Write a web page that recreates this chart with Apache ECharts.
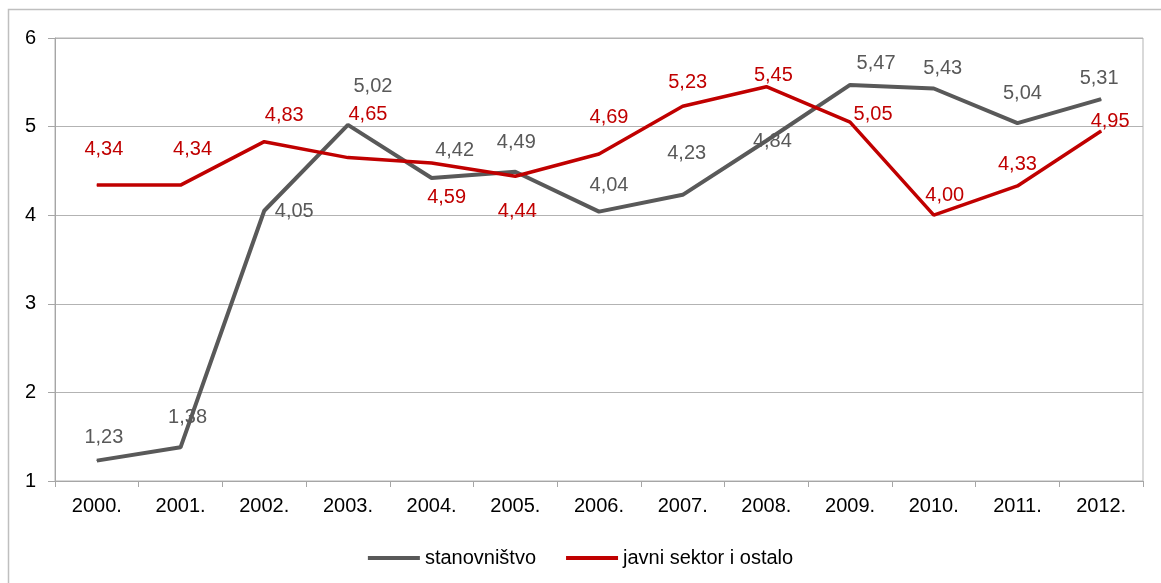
<!DOCTYPE html>
<html>
<head>
<meta charset="utf-8">
<script src="https://cdn.jsdelivr.net/npm/echarts@6/dist/echarts.min.js"></script>
<style>
  html, body {margin: 0; padding: 0; background: #fff;}
  #chart {width: 1161px; height: 583px;}
</style>
</head>
<body>
<div id="chart"></div>
<script>
// data
var years = ['2000.', '2001.', '2002.', '2003.', '2004.', '2005.', '2006.', '2007.', '2008.', '2009.', '2010.', '2011.', '2012.'];
var stanovnistvo = [1.23, 1.38, 4.05, 5.02, 4.42, 4.49, 4.04, 4.23, 4.84, 5.47, 5.43, 5.04, 5.31];
var javniSektor = [4.34, 4.34, 4.83, 4.65, 4.59, 4.44, 4.69, 5.23, 5.45, 5.05, 4.00, 4.33, 4.95];
var seriesNames = ['stanovništvo', 'javni sektor i ostalo'];
var yTicks = [1, 2, 3, 4, 5, 6];

// label placement (px offset from the point), like the original layout
var greyOffsets = [[7, -23], [7, -30], [30, 1], [25, -38], [23, -28], [1, -29], [10, -26], [4, -41], [6, 1], [26, -21], [9, -20], [5, -30], [-2, -21]];
var redOffsets = [[7, -36], [12, -36], [20, -26], [20, -43], [15, 35], [2, 35], [10, -37], [5, -24], [7, -11], [23, -8], [11, -20], [0, -21], [9, -10]];

var fmt = function (v) { return v.toFixed(2).replace('.', ','); };

function withLabels(values, offsets) {
    return values.map(function (v, i) {
        return {value: v, label: {offset: offsets[i]}};
    });
}

var myChart = echarts.init(document.getElementById('chart'));
myChart.setOption({
    animation: false,
    textStyle: {fontFamily: 'Liberation Sans, Arial, sans-serif'},
    graphic: [{
        type: 'rect',
        shape: {x: 8.5, y: 9.5, width: 1200, height: 600},
        style: {fill: 'none', stroke: '#bfbfbf', lineWidth: 1.5},
        silent: true
    }],
    grid: {left: 55, right: 18, top: 38, bottom: 102, show: true, borderColor: '#b3b3b3', borderWidth: 1},
    legend: {
        bottom: 10,
        left: 'center',
        icon: 'rect',
        itemWidth: 52,
        itemHeight: 4,
        itemGap: 30,
        textStyle: {fontSize: 20, color: '#000'},
        data: seriesNames
    },
    xAxis: {
        type: 'category',
        data: years,
        boundaryGap: true,
        axisLine: {lineStyle: {color: '#a6a6a6'}},
        axisTick: {show: true, length: 6, lineStyle: {color: '#a6a6a6'}},
        axisLabel: {fontSize: 20, color: '#000', margin: 15}
    },
    yAxis: {
        type: 'value',
        min: yTicks[0],
        max: yTicks[yTicks.length - 1],
        interval: 1,
        axisLine: {show: true, lineStyle: {color: '#a6a6a6'}},
        axisTick: {show: true, length: 7, lineStyle: {color: '#a6a6a6'}},
        splitLine: {lineStyle: {color: '#b3b3b3'}},
        axisLabel: {fontSize: 20, color: '#000', margin: 19}
    },
    series: [
        {
            name: seriesNames[0],
            type: 'line',
            data: withLabels(stanovnistvo, greyOffsets),
            symbol: 'circle',
            symbolSize: 1,
            lineStyle: {color: '#595959', width: 4},
            itemStyle: {color: '#595959'},
            label: {
                show: true, position: 'inside', fontSize: 20, color: '#595959',
                formatter: function (p) { return fmt(p.value); }
            },
            z: 3
        },
        {
            name: seriesNames[1],
            type: 'line',
            data: withLabels(javniSektor, redOffsets),
            symbol: 'circle',
            symbolSize: 1,
            lineStyle: {color: '#c00000', width: 3.5},
            itemStyle: {color: '#c00000'},
            label: {
                show: true, position: 'inside', fontSize: 20, color: '#c00000',
                formatter: function (p) { return fmt(p.value); }
            },
            z: 4
        }
    ]
});
</script>
</body>
</html>
